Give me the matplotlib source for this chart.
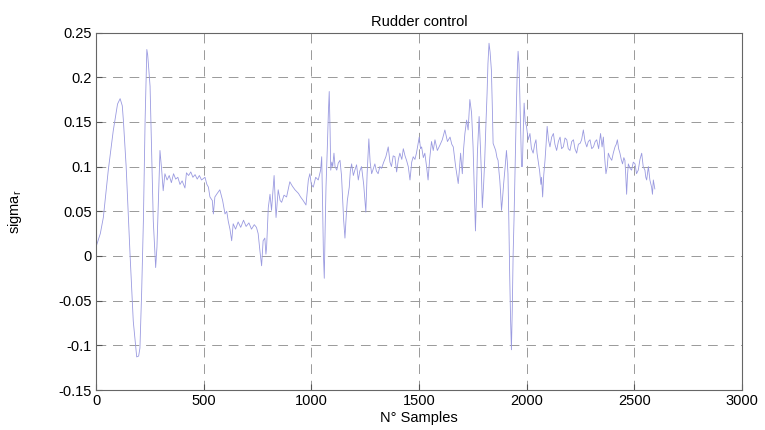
import matplotlib.pyplot as plt

# values
samples = [0, 20, 34, 57, 80, 100, 112, 122, 127, 140, 158, 173, 189, 198, 204, 212, 220, 228, 236, 240,
           251, 258, 266, 277, 283, 289, 297, 305, 312, 320, 330, 340, 350, 360, 370, 380, 390, 400, 413, 420,
           430, 440, 450, 460, 470, 480, 490, 506, 515, 522, 529, 540, 545, 552, 563, 575, 588, 599, 607, 614,
           622, 630, 637, 648, 660, 672, 685, 697, 710, 722, 735, 745, 753, 761, 769, 776, 784, 789, 792, 800,
           808, 815, 827, 836, 846, 855, 862, 873, 885, 900, 912, 924, 940, 950, 962, 975, 986, 993, 1000, 1009,
           1020, 1032, 1043, 1048, 1052, 1056, 1060, 1064, 1068, 1074, 1079, 1083, 1087, 1090, 1095, 1099, 1105, 1110, 1118, 1125,
           1133, 1140, 1145, 1150, 1156, 1162, 1167, 1172, 1176, 1181, 1187, 1195, 1202, 1210, 1218, 1225, 1233, 1243, 1253, 1259,
           1264, 1267, 1273, 1280, 1288, 1295, 1302, 1310, 1318, 1326, 1336, 1346, 1357, 1365, 1372, 1380, 1388, 1396, 1404, 1411,
           1420, 1427, 1435, 1442, 1450, 1458, 1466, 1473, 1481, 1488, 1495, 1501, 1507, 1512, 1520, 1527, 1535, 1542, 1550, 1558,
           1566, 1574, 1585, 1597, 1608, 1620, 1632, 1644, 1652, 1659, 1670, 1682, 1687, 1693, 1701, 1707, 1713, 1721, 1728, 1736,
           1744, 1751, 1756, 1762, 1767, 1771, 1779, 1785, 1790, 1794, 1800, 1805, 1811, 1816, 1820, 1825, 1830, 1836, 1840, 1844,
           1850, 1856, 1862, 1867, 1871, 1875, 1879, 1883, 1888, 1893, 1900, 1906, 1910, 1913, 1917, 1921, 1925, 1929, 1933, 1937,
           1941, 1944, 1948, 1952, 1956, 1960, 1964, 1967, 1972, 1976, 1980, 1984, 1988, 1993, 1999, 2007, 2015, 2022, 2030, 2037,
           2043, 2048, 2053, 2060, 2066, 2069, 2074, 2079, 2085, 2090, 2095, 2101, 2108, 2116, 2124, 2131, 2139, 2147, 2155, 2162,
           2170, 2178, 2186, 2193, 2201, 2209, 2217, 2224, 2232, 2240, 2248, 2255, 2263, 2271, 2279, 2286, 2294, 2302, 2310, 2318,
           2325, 2334, 2343, 2350, 2356, 2362, 2368, 2374, 2379, 2387, 2395, 2402, 2410, 2416, 2421, 2427, 2433, 2439, 2445, 2451,
           2456, 2460, 2464, 2468, 2472, 2480, 2487, 2495, 2503, 2510, 2518, 2526, 2534, 2541, 2549, 2553, 2557, 2565, 2572, 2580,
           2584, 2588, 2595]
sigma_r = [0.010, 0.025, 0.043, 0.096, 0.140, 0.170, 0.176, 0.168, 0.152, 0.100, 0.002, -0.073, -0.113, -0.112, -0.103, -0.040, 0.039, 0.152, 0.231, 0.225,
           0.190, 0.120, 0.039, -0.013, 0.010, 0.058, 0.118, 0.096, 0.073, 0.092, 0.085, 0.090, 0.082, 0.092, 0.086, 0.088, 0.080, 0.084, 0.076, 0.093,
           0.090, 0.094, 0.088, 0.091, 0.086, 0.090, 0.085, 0.088, 0.080, 0.077, 0.066, 0.062, 0.047, 0.066, 0.070, 0.074, 0.062, 0.047, 0.050, 0.039,
           0.030, 0.017, 0.036, 0.030, 0.038, 0.032, 0.040, 0.033, 0.037, 0.030, 0.035, 0.032, 0.025, 0.006, -0.011, 0.017, 0.020, 0.002, 0.009, 0.054,
           0.069, 0.051, 0.090, 0.043, 0.074, 0.062, 0.060, 0.068, 0.066, 0.083, 0.078, 0.074, 0.070, 0.066, 0.062, 0.057, 0.085, 0.092, 0.080, 0.077,
           0.088, 0.085, 0.096, 0.111, 0.060, 0.002, -0.025, 0.030, 0.077, 0.120, 0.160, 0.184, 0.140, 0.096, 0.105, 0.100, 0.115, 0.100, 0.096, 0.104,
           0.107, 0.090, 0.066, 0.040, 0.020, 0.045, 0.062, 0.070, 0.077, 0.095, 0.103, 0.090, 0.096, 0.102, 0.085, 0.095, 0.100, 0.080, 0.049, 0.092,
           0.115, 0.131, 0.105, 0.092, 0.098, 0.103, 0.095, 0.092, 0.100, 0.098, 0.105, 0.111, 0.122, 0.105, 0.100, 0.112, 0.111, 0.094, 0.108, 0.115,
           0.108, 0.120, 0.112, 0.107, 0.100, 0.085, 0.105, 0.111, 0.108, 0.115, 0.125, 0.133, 0.120, 0.122, 0.110, 0.115, 0.100, 0.085, 0.110, 0.128,
           0.118, 0.130, 0.118, 0.124, 0.130, 0.141, 0.128, 0.133, 0.125, 0.122, 0.100, 0.081, 0.095, 0.115, 0.092, 0.120, 0.137, 0.152, 0.141, 0.175,
           0.160, 0.122, 0.080, 0.028, 0.070, 0.115, 0.156, 0.122, 0.090, 0.054, 0.080, 0.107, 0.150, 0.182, 0.215, 0.238, 0.228, 0.208, 0.170, 0.126,
           0.122, 0.118, 0.110, 0.107, 0.095, 0.085, 0.070, 0.051, 0.065, 0.081, 0.100, 0.118, 0.105, 0.092, 0.040, -0.021, -0.070, -0.105, -0.060, 0.002,
           0.040, 0.077, 0.120, 0.167, 0.205, 0.229, 0.215, 0.190, 0.140, 0.100, 0.100, 0.140, 0.171, 0.150, 0.145, 0.130, 0.137, 0.120, 0.115, 0.125,
           0.130, 0.115, 0.107, 0.095, 0.080, 0.088, 0.066, 0.090, 0.107, 0.125, 0.145, 0.130, 0.122, 0.133, 0.137, 0.125, 0.118, 0.128, 0.133, 0.120,
           0.122, 0.132, 0.130, 0.120, 0.118, 0.128, 0.130, 0.120, 0.115, 0.125, 0.126, 0.130, 0.141, 0.128, 0.122, 0.128, 0.130, 0.120, 0.122, 0.128,
           0.130, 0.120, 0.137, 0.122, 0.133, 0.110, 0.092, 0.100, 0.115, 0.110, 0.107, 0.115, 0.122, 0.125, 0.130, 0.120, 0.115, 0.108, 0.103, 0.110,
           0.107, 0.090, 0.069, 0.090, 0.103, 0.098, 0.096, 0.105, 0.103, 0.092, 0.096, 0.108, 0.115, 0.100, 0.096, 0.088, 0.085, 0.100, 0.085, 0.077,
           0.069, 0.085, 0.075]

x_ticks = [0, 500, 1000, 1500, 2000, 2500, 3000]
y_ticks = [-0.15, -0.1, -0.05, 0, 0.05, 0.1, 0.15, 0.2, 0.25]
y_labels = ['-0.15', '-0.1', '-0.05', '0', '0.05', '0.1', '0.15', '0.2', '0.25']

plt.rcParams['font.family'] = ['Liberation Sans', 'DejaVu Sans']
plt.rcParams['font.size'] = 10.5

fig = plt.figure(figsize=(7.65, 4.3), dpi=100)
ax = fig.add_axes([0.1255, 0.093, 0.8445, 0.8314])

ax.plot(samples, sigma_r, color='#9a9ae0', linewidth=0.6)

ax.set_xlim(0, 3000)
ax.set_ylim(-0.15, 0.25)
ax.set_xticks(x_ticks)
ax.set_yticks(y_ticks)
ax.set_yticklabels(y_labels)
ax.tick_params(direction='in', length=4, color='#555555', pad=3)
ax.grid(True, linestyle=(0, (10, 7)), color='#999999', linewidth=0.7)
for s in ax.spines.values():
    s.set_color('#666666')

ax.set_title('Rudder control', fontsize=10.5, pad=5)
ax.set_xlabel('N° Samples', labelpad=2)
ax.set_ylabel('sigma$_\\mathregular{r}$', labelpad=25)

fig.savefig('out.png', dpi=100)
